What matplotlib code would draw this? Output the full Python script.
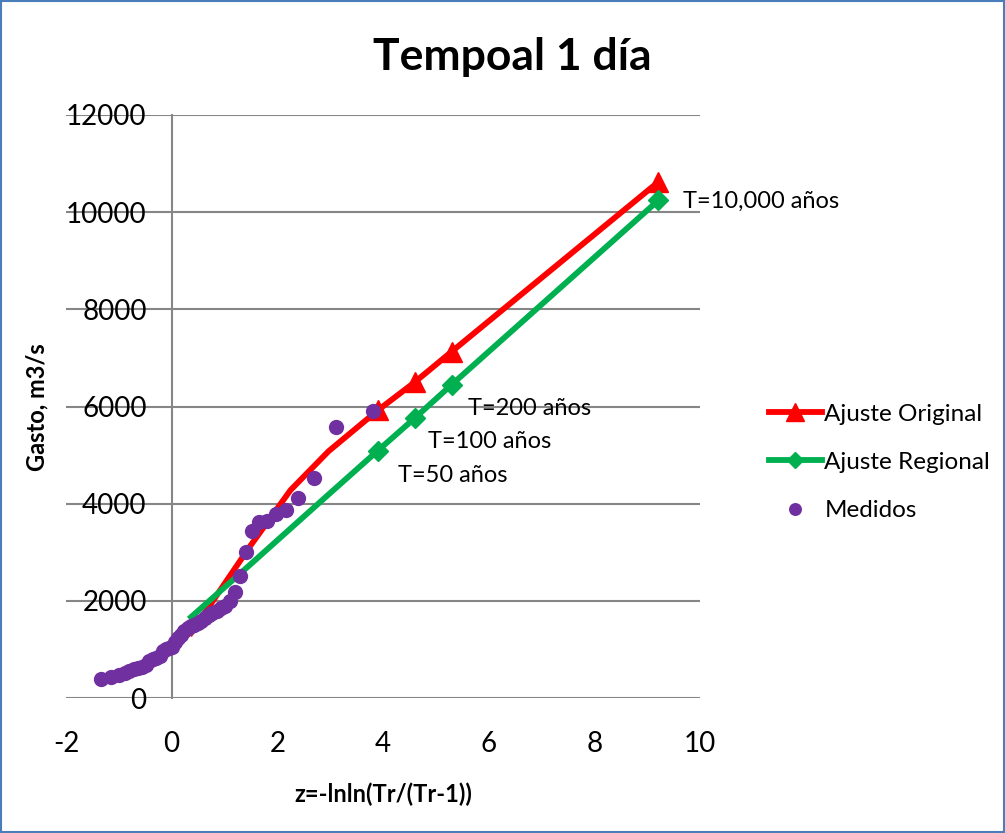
"""Tempoal 1 día — gasto vs variable reducida de Gumbel."""
import matplotlib
matplotlib.use("Agg")
import matplotlib.pyplot as plt
from matplotlib.patches import Rectangle

# fitted curves, T = 2, 5, 10, 20, 50, 100, 200, 10000 años
z_fit = [0.367, 1.50, 2.25, 2.97, 3.90, 4.60, 5.30, 9.21]
q_original = [1340, 3150, 4280, 5080, 5920, 6500, 7130, 10620]
q_regional = [1667, 2760, 3490, 4190, 5090, 5760, 6450, 10240]

# measured annual maxima (plotting positions)
z_med = [3.82, 3.11, 2.70, 2.40, 2.16, 1.97, 1.80, 1.66, 1.52, 1.41,
         1.30, 1.20, 1.10, 1.01, 0.93, 0.85, 0.77, 0.70, 0.63, 0.56,
         0.49, 0.43, 0.37, 0.30, 0.24, 0.18, 0.12, 0.06, 0.00, -0.05,
         -0.11, -0.17, -0.23, -0.30, -0.36, -0.42, -0.49, -0.56, -0.63, -0.71,
         -0.80, -0.89, -1.00, -1.14, -1.34]
q_med = [5900, 5580, 4530, 4110, 3870, 3780, 3640, 3620, 3430, 3000,
         2510, 2180, 2000, 1900, 1850, 1800, 1760, 1700, 1640, 1580,
         1540, 1510, 1490, 1450, 1370, 1290, 1230, 1150, 1060, 1040,
         1000, 960, 860, 820, 800, 760, 680, 640, 620, 600,
         560, 510, 470, 430, 400]

labels_T = ["T=10,000 años", "T=200 años", "T=100 años", "T=50 años"]
labels_pos = [(9.68, 10230), (5.61, 5950), (4.85, 5290), (4.28, 4570)]

plt.rcParams["font.family"] = ["Lato", "DejaVu Sans"]
plt.rcParams["axes.unicode_minus"] = False
GRID = "#868686"

fig = plt.figure(figsize=(10.05, 8.33), dpi=100)
ax = fig.add_axes([0.0657, 0.162, 0.6308, 0.700])

ax.plot(z_fit, q_original, "-", color="#FF0000", lw=4.2, marker="^", ms=15,
        markevery=[4, 5, 6, 7], label="Ajuste Original", zorder=3)
ax.plot(z_fit, q_regional, "-", color="#00B050", lw=4.2, marker="D", ms=10,
        markevery=[4, 5, 6, 7], label="Ajuste Regional", zorder=3)
ax.plot(z_med, q_med, "o", color="#7030A0", ms=11, mec="none", label="Medidos", zorder=4)

ax.set_xlim(-2, 10)
ax.set_ylim(0, 12000)
ax.set_xticks(range(-2, 11, 2))
ax.set_yticks(range(0, 12001, 2000))
ax.yaxis.grid(True, color=GRID, lw=1.5)
ax.set_axisbelow(True)

for s in ("top", "right", "bottom"):
    ax.spines[s].set_visible(False)
ax.spines["left"].set_position(("data", 0))
ax.spines["left"].set_color(GRID)
ax.spines["left"].set_linewidth(1.5)
ax.tick_params(axis="y", length=0, pad=18, labelsize=20)
ax.tick_params(axis="x", length=0, pad=24, labelsize=20)

for lab, (x, y) in zip(labels_T, labels_pos):
    ax.text(x, y, lab, fontsize=17, va="center", ha="left", clip_on=False)

fig.text(0.510, 0.932, "Tempoal 1 día", fontsize=32, fontweight="bold",
         ha="center", va="center")
fig.text(0.037, 0.511, "Gasto, m3/s", fontsize=17, fontweight="bold",
         rotation=90, ha="center", va="center")
fig.text(0.381, 0.046, "z=-lnln(Tr/(Tr-1))", fontsize=17, fontweight="bold",
         ha="center", va="center")

ax.legend(loc="center left", bbox_to_anchor=(0.743, 0.445), bbox_transform=fig.transFigure,
          frameon=False, fontsize=17.5, handlelength=2.2, handletextpad=0.1,
          labelspacing=1.12, markerscale=0.85)

fig.patches.append(Rectangle((0.001, 0.001), 0.998, 0.998, transform=fig.transFigure,
                             fill=False, edgecolor="#4A7EBB", lw=1.5))
fig.savefig("out.png", dpi=100)
